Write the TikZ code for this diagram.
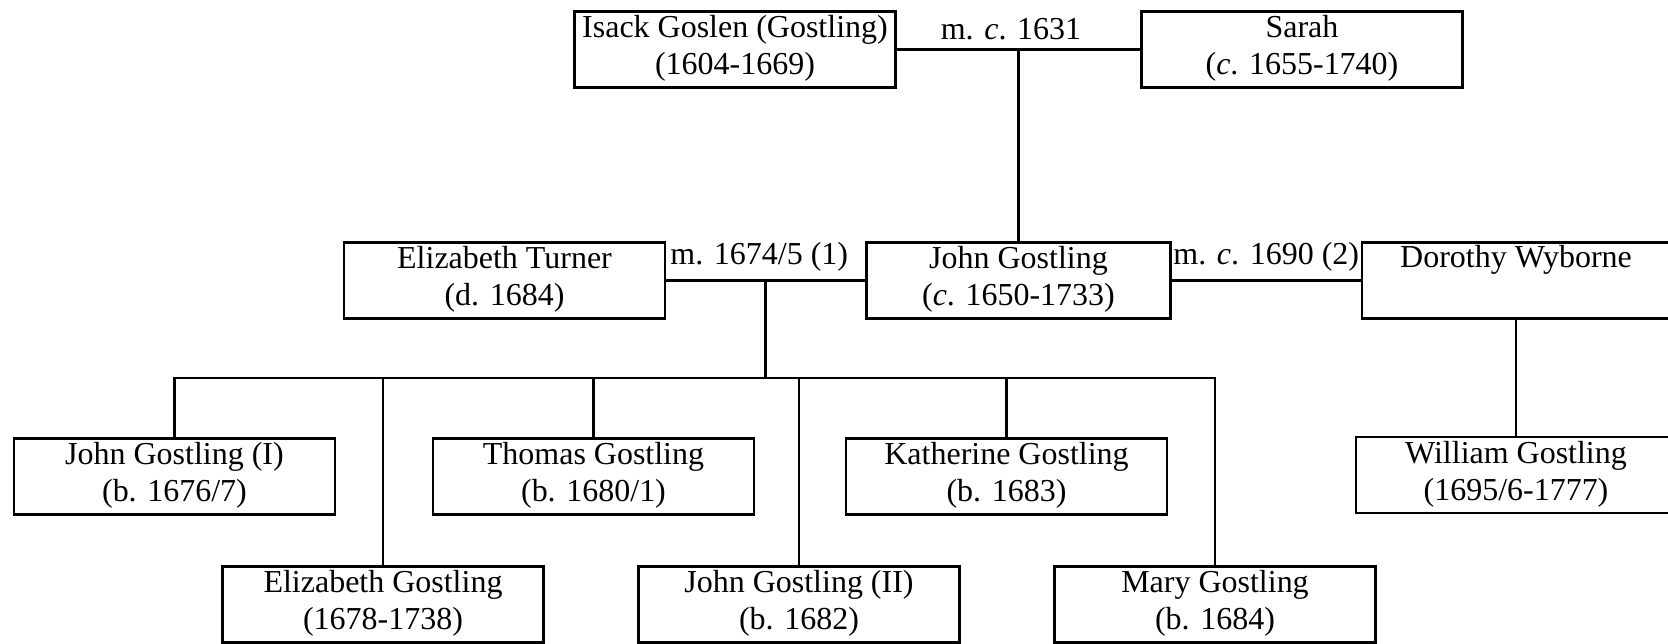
\documentclass[tikz,border=0pt]{standalone}
\usepackage{fontspec}
\setmainfont{Liberation Serif}
\begin{document}
\begin{tikzpicture}[line width=0.75pt,
        person/.style={draw, minimum width=3.21cm, minimum height=0.76cm, inner sep=0pt, align=center,
            font=\fontsize{9.1}{10.5}\selectfont, execute at end node={\rule[-2.5pt]{0pt}{0pt}}},
        wed/.style={above, yshift=-1.1pt, font=\fontsize{9.1}{10.5}\selectfont}]
        \useasboundingbox (0,0) rectangle (16.68,6.43);
        \clip (0,0) rectangle (16.68,6.43);
        \node[person] (isack) at (7.35,5.935) {Isack Goslen (Gostling)\\(1604-1669)};
        \node[person] (sarah) at (13.02,5.935) {Sarah\\(\textit{c}. 1655-1740)};
        \node[person] (elizT) at (5.045,3.625) {Elizabeth Turner\\(d. 1684)};
        \node[person, minimum width=3.04cm] (john) at (10.185,3.625) {John Gostling\\(\textit{c}. 1650-1733)};
        \node[person, minimum width=3.08cm] (dorothy) at (15.16,3.625) {Dorothy Wyborne\\\strut};
        \node[person] (johnI) at (1.745,1.665) {John Gostling (I)\\(b. 1676/7)};
        \node[person] (thomas) at (5.935,1.665) {Thomas Gostling\\(b. 1680/1)};
        \node[person] (kath) at (10.065,1.665) {Katherine Gostling\\(b. 1683)};
        \node[person, minimum width=3.2cm] (william) at (15.16,1.68) {William Gostling\\(1695/6-1777)};
        \node[person] (elizG) at (3.83,0.385) {Elizabeth Gostling\\(1678-1738)};
        \node[person] (johnII) at (7.99,0.385) {John Gostling (II)\\(b. 1682)};
        \node[person] (mary) at (12.15,0.385) {Mary Gostling\\(b. 1684)};
        \coordinate (bar) at (0,2.65);
        \draw (isack) -- (sarah) node[wed, midway, xshift=-0.075cm] {m. \textit{c}. 1631} coordinate[midway] (m0);
        \draw (m0) -- (m0 |- john.north);
        \draw (elizT) -- (john) node[wed, midway, xshift=-0.065cm] {m. 1674/5 (1)} coordinate[midway] (m1);
        \draw (john) -- (dorothy) node[wed, midway] {m. \textit{c}. 1690 (2)};
        \draw (dorothy) -- (william);
        \draw (m1) -- (m1 |- bar);
        \draw (johnI.north) -- (johnI.north |- bar) -- (mary.north |- bar) -- (mary.north);
        \foreach \kid in {elizG,thomas,johnII,kath}
        \draw (\kid.north) -- (\kid.north |- bar);
    \end{tikzpicture}
\end{document}
